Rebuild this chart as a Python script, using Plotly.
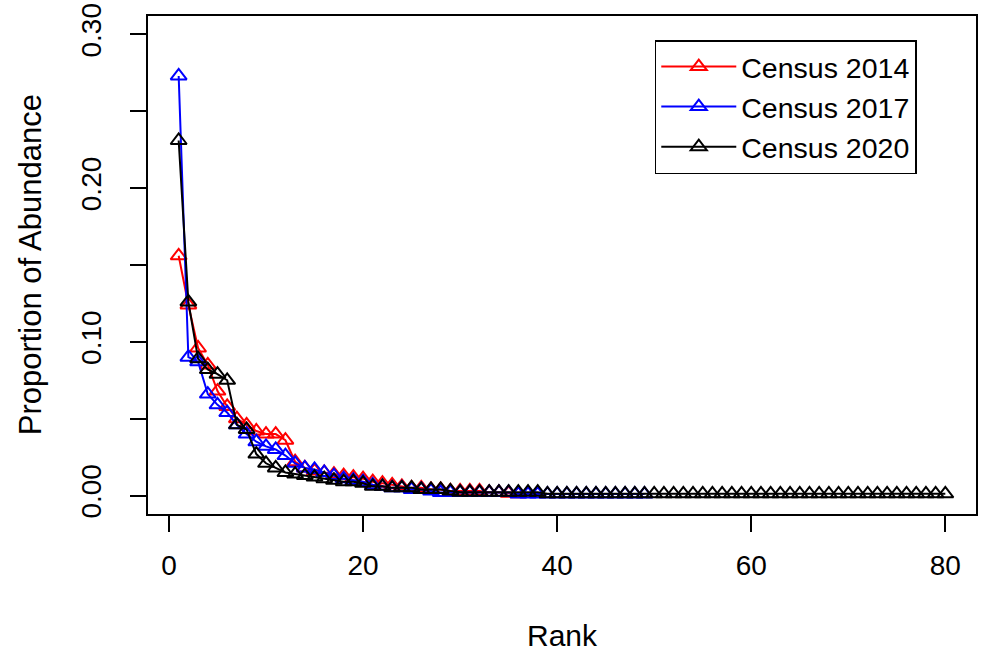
import plotly.graph_objects as go

# Proportion of abundance by rank
census_2014 = [0.156, 0.124, 0.096, 0.085, 0.068, 0.058, 0.050, 0.046, 0.042, 0.040,
               0.040, 0.036, 0.022, 0.018, 0.016, 0.015, 0.014, 0.013, 0.012, 0.011,
               0.009, 0.008, 0.007, 0.006, 0.005, 0.005, 0.004, 0.004, 0.003, 0.003,
               0.003, 0.003, 0.002, 0.002, 0.0015, 0.0011]
census_2017 = [0.273, 0.090, 0.087, 0.066, 0.059, 0.054, 0.046, 0.040, 0.035, 0.032,
               0.030, 0.026, 0.021, 0.018, 0.017, 0.015, 0.013, 0.011, 0.010, 0.009,
               0.007, 0.006, 0.005, 0.005, 0.004, 0.004, 0.003, 0.002, 0.002, 0.002,
               0.002, 0.002, 0.002, 0.002, 0.002, 0.001, 0.001, 0.001, 0.001, 0.001,
               0.001, 0.001, 0.001, 0.001, 0.001, 0.001, 0.001, 0.001, 0.001]
census_2020 = [0.231, 0.126, 0.089, 0.082, 0.079, 0.075, 0.046, 0.043, 0.027, 0.021,
               0.018, 0.015, 0.014, 0.013, 0.012, 0.011, 0.010, 0.009, 0.009, 0.008,
               0.006, 0.006, 0.005, 0.005, 0.005, 0.004, 0.004, 0.004, 0.003, 0.0022,
               0.0022, 0.0022, 0.0022, 0.0022, 0.0022, 0.0022, 0.0022, 0.0022, 0.0011, 0.0011,
               0.0011, 0.0011, 0.0011, 0.0011, 0.0011, 0.0011, 0.0011, 0.0011, 0.0011, 0.0011,
               0.0011, 0.0011, 0.0011, 0.0011, 0.0011, 0.0011, 0.0011, 0.0011, 0.0011, 0.0011,
               0.0011, 0.0011, 0.0011, 0.0011, 0.0011, 0.0011, 0.0011, 0.0011, 0.0011, 0.0011,
               0.0011, 0.0011, 0.0011, 0.0011, 0.0011, 0.0011, 0.0011, 0.0011, 0.0011, 0.0011]

series_names = ["Census 2014", "Census 2017", "Census 2020"]
series_colors = ["#FF0000", "#0000FF", "#000000"]

x_ticks = [0, 20, 40, 60, 80]
y_ticks = [0.00, 0.05, 0.10, 0.15, 0.20, 0.25, 0.30]
y_tick_text = ["0.00", "", "0.10", "", "0.20", "", "0.30"]

FONT = "Liberation Sans, Arial, sans-serif"

fig = go.Figure()
for name, vals, col in zip(series_names, [census_2014, census_2017, census_2020], series_colors):
    fig.add_trace(go.Scatter(
        x=list(range(1, len(vals) + 1)), y=vals, name=name,
        mode="lines+markers",
        line=dict(color=col, width=2),
        marker=dict(symbol="triangle-up-open", size=14, color=col,
                    line=dict(color=col, width=2)),
    ))

L, R, T, B = 148, 3, 16, 141
PW, PH = 981 - L - R, 655 - T - B
fig.update_layout(
    width=981, height=655,
    margin=dict(l=L, r=R, t=T, b=B, pad=0),
    paper_bgcolor="white", plot_bgcolor="white",
    font=dict(family=FONT, size=28, color="black"),
    showlegend=True,
    legend=dict(x=(656 - L) / PW, y=(655 - B - 40) / PH,
                xanchor="left", yanchor="top",
                bordercolor="black", borderwidth=1.5, bgcolor="white",
                font=dict(family=FONT, size=28.5, color="black"),
                itemwidth=75, tracegroupgap=0,
                entrywidth=268, entrywidthmode="pixels"),
    xaxis=dict(range=[-2.16, 83.16], tickmode="array", tickvals=x_ticks,
               ticktext=[str(v) for v in x_ticks],
               showgrid=False, zeroline=False, showline=True, linecolor="black",
               linewidth=1.5, mirror=True, ticks="outside", ticklen=16, tickwidth=1.5,
               tickcolor="black", ticklabelstandoff=10,
               tickfont=dict(family=FONT, size=28, color="black")),
    yaxis=dict(range=[-0.012, 0.312], tickmode="array", tickvals=y_ticks,
               ticktext=y_tick_text, tickangle=-90,
               showgrid=False, zeroline=False, showline=True, linecolor="black",
               linewidth=1.5, mirror=True, ticks="outside", ticklen=16, tickwidth=1.5,
               tickcolor="black", ticklabelstandoff=18,
               tickfont=dict(family=FONT, size=28, color="black")),
    annotations=[
        dict(text="Rank", xref="paper", yref="paper", x=0.5,
             y=(655 - B - 635) / PH, xanchor="center", yanchor="middle",
             showarrow=False, font=dict(family=FONT, size=30, color="black")),
        dict(text="Proportion of Abundance", xref="paper", yref="paper",
             x=(30 - L) / PW, y=0.5, xanchor="center", yanchor="middle",
             textangle=-90, showarrow=False,
             font=dict(family=FONT, size=31, color="black")),
    ],
)

fig.write_html("out.html", config={"displayModeBar": False},
               post_script="document.body.style.margin='0px';")
